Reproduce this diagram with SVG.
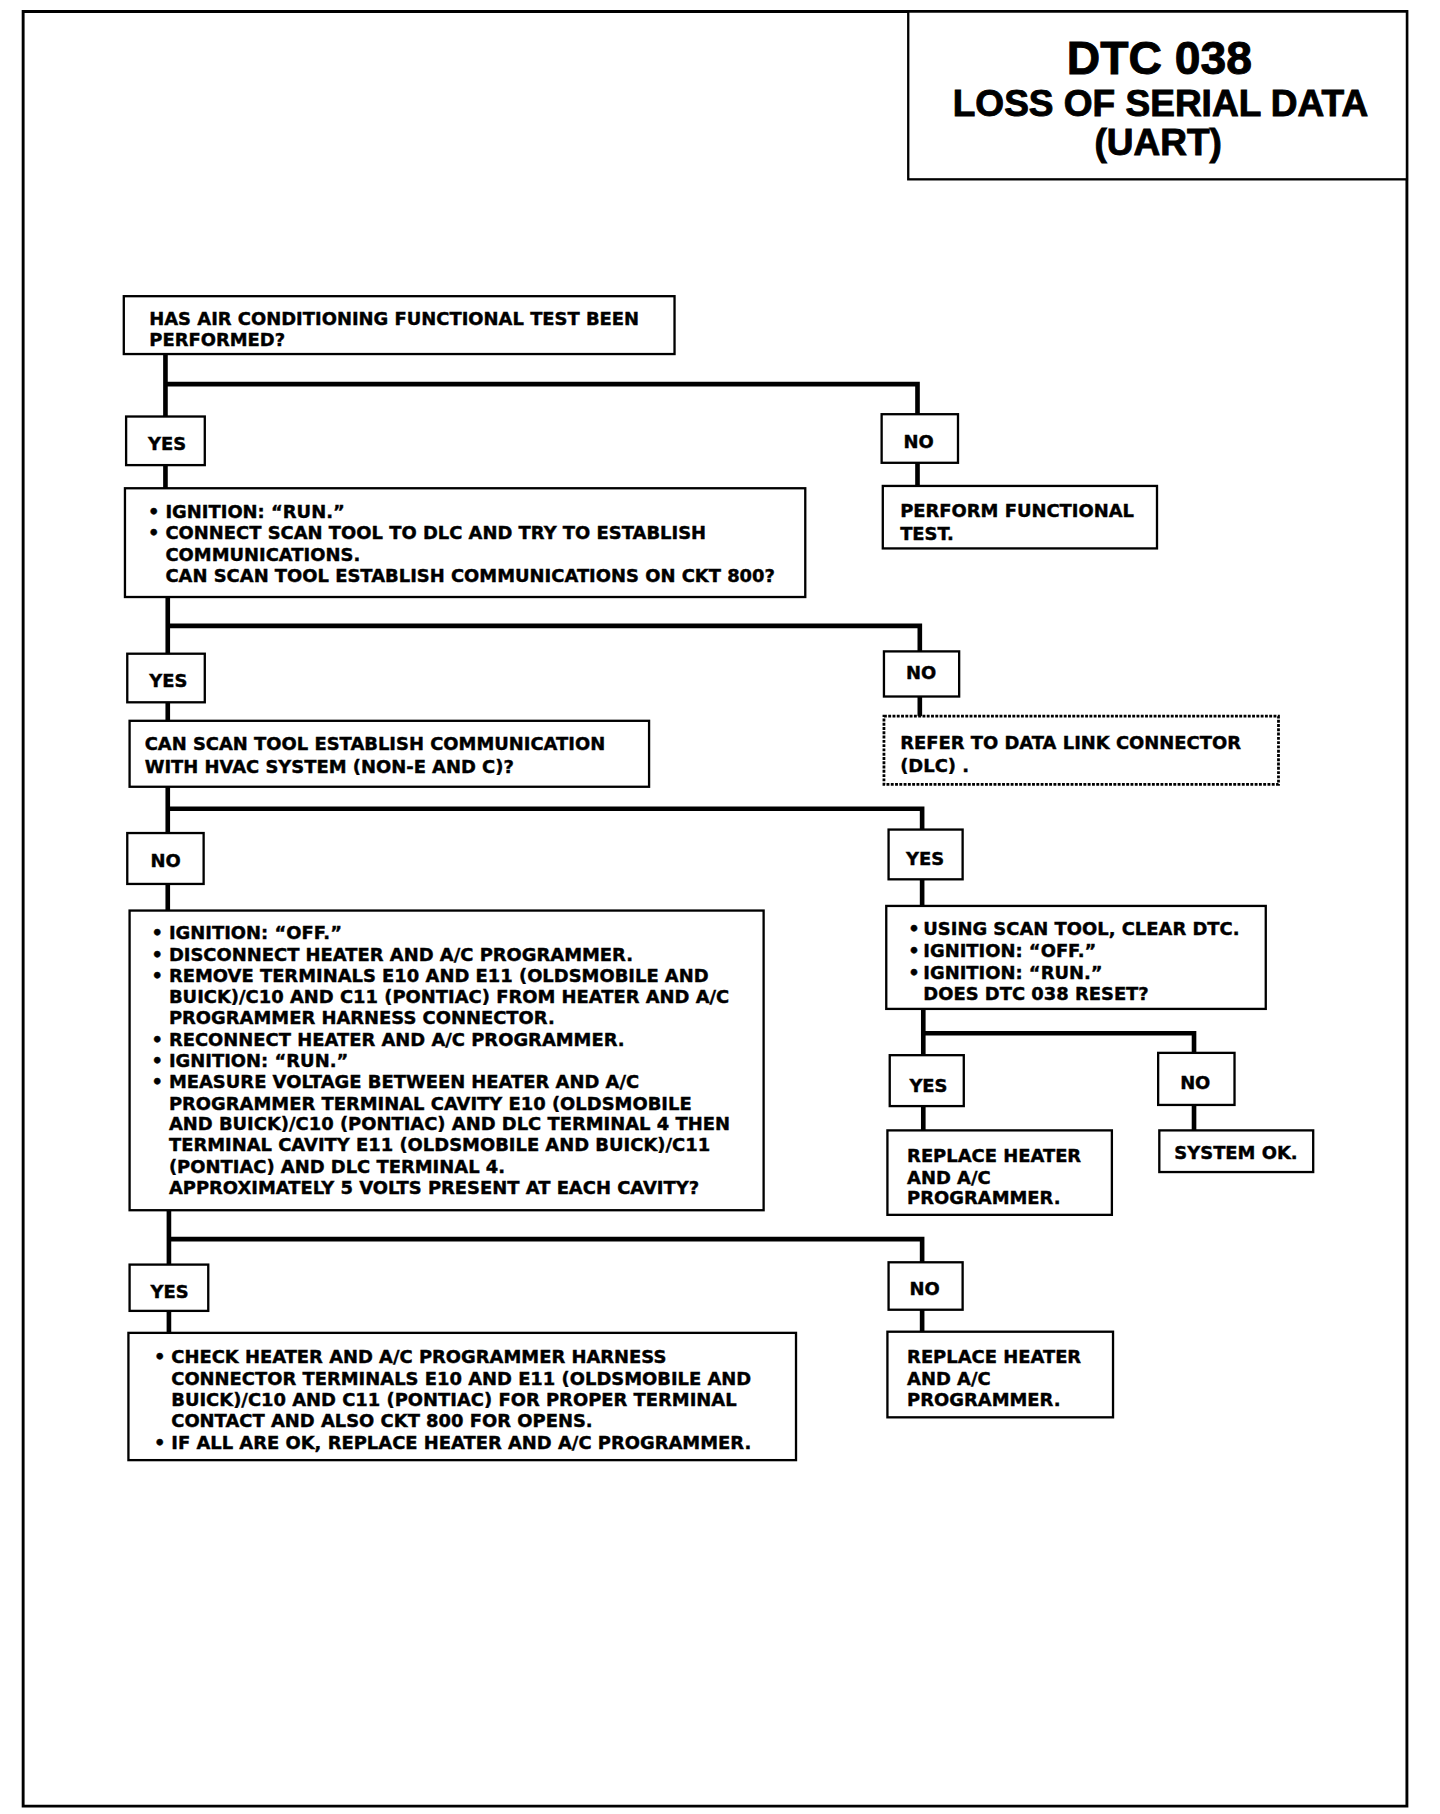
<svg xmlns="http://www.w3.org/2000/svg" width="1440" height="1814" viewBox="0 0 1440 1814">
<style>
.box{fill:#fff;stroke:#000;stroke-width:2}
.dash{fill:#fff;stroke:#000;stroke-width:2.4;stroke-dasharray:2.5 1.2}
.t{font-family:"DejaVu Sans",sans-serif;font-weight:bold;font-size:15.5px;fill:#000;stroke:#000;stroke-width:0.35}
.h{font-family:"Liberation Sans",Arial,sans-serif;font-weight:bold;fill:#000;stroke:#000;stroke-width:0.8;text-anchor:middle}
.c{fill:none;stroke:#000;stroke-width:4;stroke-linejoin:miter;stroke-linecap:square}
</style>
<rect width="1440" height="1814" fill="#fff"/>
<g transform="scale(1.157)">
<path d="M20 10H1216V1561H20Z" fill="none" stroke="#000" stroke-width="2.5"/>
<g id="title">
<rect x="785" y="10" width="431" height="145" class="box"/>
<text class="h" x="1002" y="64" font-size="40">DTC 038</text>
<text class="h" x="1003" y="100" font-size="32">LOSS OF SERIAL DATA</text>
<text class="h" x="1001" y="134" font-size="32">(UART)</text>
</g>
<g id="connectors">
<path class="c" d="M143 306V360M143 332H793V358M143 402V422M793 400V420"/>
<path class="c" d="M145 516V565M145 541H795V563M145 607V623M795 602V619"/>
<path class="c" d="M145 680V720M145 699H797V717M145 764V787M797 760V783"/>
<path class="c" d="M798 872V912M798 893H1032V910M798 956V977M1032 955V977"/>
<path class="c" d="M146 1046V1093M146 1071H797V1091M146 1133V1152M797 1132V1151"/>
</g>
<g id="n1"><rect x="107" y="256" width="476" height="50" class="box"/>
<text class="t" x="129" y="281">HAS AIR CONDITIONING FUNCTIONAL TEST BEEN</text>
<text class="t" x="129" y="299">PERFORMED?</text></g>
<g id="yes1"><rect x="109" y="360" width="68" height="42" class="box"/><text class="t" x="128" y="389">YES</text></g>
<g id="no1"><rect x="762" y="358" width="66" height="42" class="box"/><text class="t" x="781" y="387">NO</text></g>
<g id="n_perform"><rect x="763" y="420" width="237" height="54" class="box"/>
<text class="t" x="778" y="447">PERFORM FUNCTIONAL</text>
<text class="t" x="778" y="467">TEST.</text></g>
<g id="n2"><rect x="108" y="422" width="588" height="94" class="box"/>
<text class="t" x="128" y="448">•</text><text class="t" x="143" y="448">IGNITION: “RUN.”</text>
<text class="t" x="128" y="466">•</text><text class="t" x="143" y="466">CONNECT SCAN TOOL TO DLC AND TRY TO ESTABLISH</text>
<text class="t" x="143" y="485">COMMUNICATIONS.</text>
<text class="t" x="143" y="503">CAN SCAN TOOL ESTABLISH COMMUNICATIONS ON CKT 800?</text></g>
<g id="yes2"><rect x="110" y="565" width="67" height="42" class="box"/><text class="t" x="129" y="594">YES</text></g>
<g id="no2"><rect x="764" y="563" width="65" height="39" class="box"/><text class="t" x="783" y="587">NO</text></g>
<g id="n_refer"><rect x="764" y="619" width="341" height="59" class="dash"/>
<text class="t" x="778" y="647">REFER TO DATA LINK CONNECTOR</text>
<text class="t" x="778" y="667">(DLC) .</text></g>
<g id="n3"><rect x="112" y="623" width="449" height="57" class="box"/>
<text class="t" x="125" y="648">CAN SCAN TOOL ESTABLISH COMMUNICATION</text>
<text class="t" x="125" y="668">WITH HVAC SYSTEM (NON-E AND C)?</text></g>
<g id="no3"><rect x="110" y="720" width="66" height="44" class="box"/><text class="t" x="130" y="749">NO</text></g>
<g id="yes3"><rect x="768" y="717" width="64" height="43" class="box"/><text class="t" x="783" y="748">YES</text></g>
<g id="n4"><rect x="112" y="787" width="548" height="259" class="box"/>
<text class="t" x="131" y="812">•</text><text class="t" x="146" y="812">IGNITION: “OFF.”</text>
<text class="t" x="131" y="831">•</text><text class="t" x="146" y="831">DISCONNECT HEATER AND A/C PROGRAMMER.</text>
<text class="t" x="131" y="849">•</text><text class="t" x="146" y="849">REMOVE TERMINALS E10 AND E11 (OLDSMOBILE AND</text>
<text class="t" x="146" y="867">BUICK)/C10 AND C11 (PONTIAC) FROM HEATER AND A/C</text>
<text class="t" x="146" y="885">PROGRAMMER HARNESS CONNECTOR.</text>
<text class="t" x="131" y="904">•</text><text class="t" x="146" y="904">RECONNECT HEATER AND A/C PROGRAMMER.</text>
<text class="t" x="131" y="922">•</text><text class="t" x="146" y="922">IGNITION: “RUN.”</text>
<text class="t" x="131" y="940">•</text><text class="t" x="146" y="940">MEASURE VOLTAGE BETWEEN HEATER AND A/C</text>
<text class="t" x="146" y="959">PROGRAMMER TERMINAL CAVITY E10 (OLDSMOBILE</text>
<text class="t" x="146" y="977">AND BUICK)/C10 (PONTIAC) AND DLC TERMINAL 4 THEN</text>
<text class="t" x="146" y="995">TERMINAL CAVITY E11 (OLDSMOBILE AND BUICK)/C11</text>
<text class="t" x="146" y="1014">(PONTIAC) AND DLC TERMINAL 4.</text>
<text class="t" x="146" y="1032">APPROXIMATELY 5 VOLTS PRESENT AT EACH CAVITY?</text></g>
<g id="n5"><rect x="766" y="783" width="328" height="89" class="box"/>
<text class="t" x="785" y="808">•</text><text class="t" x="798" y="808">USING SCAN TOOL, CLEAR DTC.</text>
<text class="t" x="785" y="827">•</text><text class="t" x="798" y="827">IGNITION: “OFF.”</text>
<text class="t" x="785" y="846">•</text><text class="t" x="798" y="846">IGNITION: “RUN.”</text>
<text class="t" x="798" y="864">DOES DTC 038 RESET?</text></g>
<g id="yes5"><rect x="769" y="912" width="64" height="44" class="box"/><text class="t" x="786" y="944">YES</text></g>
<g id="no5"><rect x="1001" y="910" width="66" height="45" class="box"/><text class="t" x="1020" y="941">NO</text></g>
<g id="n_replace1"><rect x="767" y="977" width="194" height="73" class="box"/>
<text class="t" x="784" y="1004">REPLACE HEATER</text>
<text class="t" x="784" y="1023">AND A/C</text>
<text class="t" x="784" y="1041">PROGRAMMER.</text></g>
<g id="n_ok"><rect x="1002" y="977" width="133" height="36" class="box"/>
<text class="t" x="1015" y="1002">SYSTEM OK.</text></g>
<g id="yes4"><rect x="112" y="1093" width="68" height="40" class="box"/><text class="t" x="130" y="1122">YES</text></g>
<g id="no4"><rect x="768" y="1091" width="64" height="41" class="box"/><text class="t" x="786" y="1119">NO</text></g>
<g id="n6"><rect x="111" y="1152" width="577" height="110" class="box"/>
<text class="t" x="133" y="1178">•</text><text class="t" x="148" y="1178">CHECK HEATER AND A/C PROGRAMMER HARNESS</text>
<text class="t" x="148" y="1197">CONNECTOR TERMINALS E10 AND E11 (OLDSMOBILE AND</text>
<text class="t" x="148" y="1215">BUICK)/C10 AND C11 (PONTIAC) FOR PROPER TERMINAL</text>
<text class="t" x="148" y="1233">CONTACT AND ALSO CKT 800 FOR OPENS.</text>
<text class="t" x="133" y="1252">•</text><text class="t" x="148" y="1252">IF ALL ARE OK, REPLACE HEATER AND A/C PROGRAMMER.</text></g>
<g id="n_replace2"><rect x="767" y="1151" width="195" height="74" class="box"/>
<text class="t" x="784" y="1178">REPLACE HEATER</text>
<text class="t" x="784" y="1197">AND A/C</text>
<text class="t" x="784" y="1215">PROGRAMMER.</text></g>
</g>
</svg>
